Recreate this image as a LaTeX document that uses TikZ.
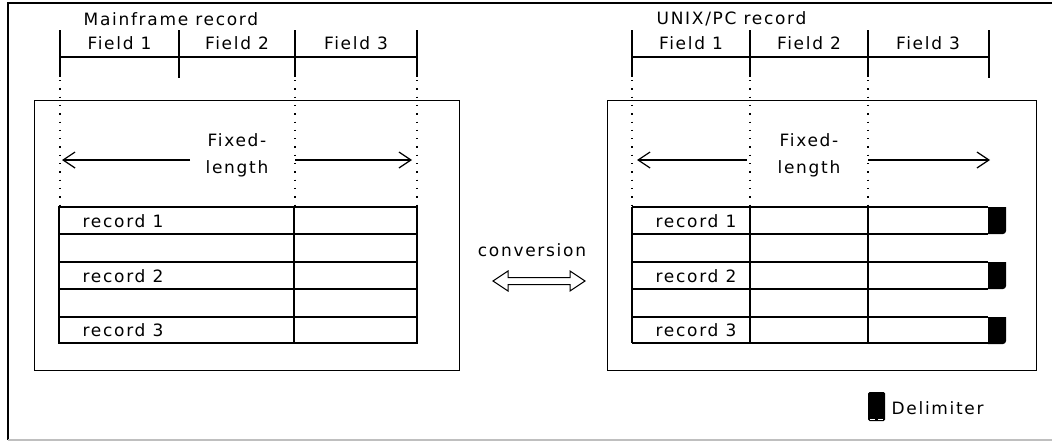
\documentclass[tikz,border=0pt]{standalone}
\usepackage{fontspec}
\setmainfont{DejaVu Sans}[LetterSpace=10]
\usetikzlibrary{arrows.meta}
\begin{document}
\begin{tikzpicture}[x=1pt,y=-1pt, line width=1.3pt,
  txt/.style={inner sep=0pt, font=\fontsize{17}{27}\selectfont},
  dotline/.style={line width=1.3pt, dash pattern=on 1.3pt off 7pt},
  arr/.style={-{Straight Barb[length=12pt,width=16pt,line width=1.2pt]}},
  panel/.style={draw, inner sep=0pt, anchor=north west, minimum height=270pt},
  delim/.style={fill=black, draw=none}]
\useasboundingbox (0,0) rectangle (1052,442);
% outer frame
\draw (8,440) -- (8,3) -- (1052,3);
\draw[black!25] (8,440) -- (1052,440);

% ---------------- left panel ----------------
\node[txt, anchor=west] (mtitle) at (83,19) {Mainframe record};
\draw (60,30) -- (60,77);
\draw (179,30) -- (179,78);
\draw (295,30) -- (295,77);
\draw (417,30) -- (417,77);
\draw (60,57) -- (417,57);
\node[txt] (mf1) at (119.5,43) {Field 1};
\node[txt] (mf2) at (237,43) {Field 2};
\node[txt] (mf3) at (356,43) {Field 3};
\node[panel, minimum width=425pt] (mbox) at (34,100) {};
\draw[dotline] (60,80) -- (60,206);
\draw[dotline] (295,80) -- (295,206);
\draw[dotline] (417,80) -- (417,206);
\node[txt, align=center] (mfix) at (237,155) {Fixed-\\length};
\coordinate (mla) at (190,160);
\coordinate (mlb) at (62,160);
\coordinate (mra) at (295,160);
\coordinate (mrb) at (412,160);
\draw[arr] (mla) -- (mlb);
\draw[arr] (mra) -- (mrb);
% table
\draw (59,207) rectangle (417,343);
\foreach \yy in {234,262,289,317} \draw (59,\yy) -- (417,\yy);
\draw (294,207) -- (294,343);
\node[txt, anchor=west] (mr1) at (82,221) {record 1};
\node[txt, anchor=west] (mr2) at (82,276) {record 2};
\node[txt, anchor=west] (mr3) at (82,330) {record 3};

% ---------------- conversion ----------------
\node[txt] (conv) at (532,250) {conversion};
\draw[line width=1pt] (493,281) -- (508,271) -- (508,277.5) -- (570,277.5) -- (570,271)
  -- (585,281) -- (570,291) -- (570,284.5) -- (508,284.5) -- (508,291) -- cycle;

% ---------------- right panel ----------------
\node[txt, anchor=west] (utitle) at (656,19) {UNIX/PC record};
\draw (632,30) -- (632,77);
\draw (750,30) -- (750,77);
\draw (868,30) -- (868,77);
\draw (989,30) -- (989,78);
\draw (632,57) -- (989,57);
\node[txt] (uf1) at (691,43) {Field 1};
\node[txt] (uf2) at (809,43) {Field 2};
\node[txt] (uf3) at (928,43) {Field 3};
\node[panel, minimum width=429pt] (ubox) at (607,100) {};
\draw[dotline] (632,80) -- (632,206);
\draw[dotline] (750,80) -- (750,206);
\draw[dotline] (868,80) -- (868,206);
\node[txt, align=center] (ufix) at (809,155) {Fixed-\\length};
\coordinate (ula) at (747,160);
\coordinate (ulb) at (637,160);
\coordinate (ura) at (868,160);
\coordinate (urb) at (990,160);
\draw[arr] (ula) -- (ulb);
\draw[arr] (ura) -- (urb);
% table
\foreach \yy in {207,234,262,289,317,343} \draw (632,\yy) -- (988,\yy);
\draw (632,207) -- (632,343);
\draw (750,207) -- (750,343);
\draw (868,207) -- (868,343);
\foreach \yy in {207,262,317}
  \fill (988,\yy) -- (1006,\yy) [rounded corners=3pt] -- (1006,\yy+27) [sharp corners] -- (988,\yy+27) -- cycle;
\node[txt, anchor=east] (ur1) at (737,221) {record 1};
\node[txt, anchor=east] (ur2) at (737,276) {record 2};
\node[txt, anchor=east] (ur3) at (737,330) {record 3};

% legend
\fill[rounded corners=1.5pt] (868,392) rectangle (885,421);
\draw[white, line width=1pt] (870,419) -- (875,419) (878,419) -- (883,419);
\node[txt, anchor=west] (dlabel) at (891,408) {Delimiter};
\end{tikzpicture}
\end{document}
